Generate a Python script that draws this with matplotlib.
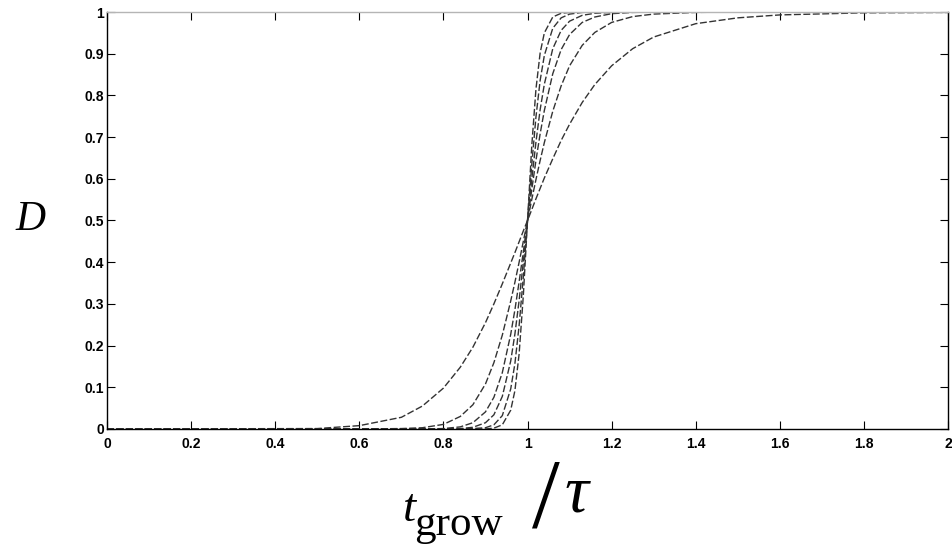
import numpy as np
import matplotlib
matplotlib.use("Agg")
import matplotlib.pyplot as plt

# 横軸 t_grow / tau
t = [0, 0.5, 0.6, 0.7, 0.75, 0.8, 0.84, 0.87, 0.9, 0.92, 0.94, 0.96, 0.97, 0.98, 0.99,
     1.0, 1.01, 1.02, 1.03, 1.04, 1.06, 1.08, 1.1, 1.13, 1.16, 1.2, 1.25, 1.3, 1.4, 1.5, 1.6, 1.8, 2.0]

# D の各曲線 (緩やかな順)
d1 = [0, 0.001, 0.008, 0.028, 0.055, 0.098, 0.148, 0.196, 0.255, 0.300, 0.348, 0.398, 0.423, 0.449, 0.475,
      0.5, 0.526, 0.552, 0.577, 0.602, 0.648, 0.692, 0.731, 0.783, 0.826, 0.871, 0.912, 0.940, 0.972, 0.986, 0.993, 0.998, 0.999]
d2 = [0, 0, 0, 0.001, 0.003, 0.011, 0.030, 0.058, 0.108, 0.159, 0.225, 0.307, 0.352, 0.400, 0.450,
      0.5, 0.550, 0.598, 0.644, 0.687, 0.762, 0.823, 0.871, 0.920, 0.951, 0.975, 0.989, 0.995, 0.999, 1, 1, 1, 1]
d3 = [0, 0, 0, 0, 0, 0.001, 0.005, 0.015, 0.041, 0.076, 0.135, 0.227, 0.286, 0.353, 0.425,
      0.5, 0.574, 0.644, 0.708, 0.764, 0.852, 0.910, 0.946, 0.975, 0.988, 0.996, 0.999, 1, 1, 1, 1, 1, 1]
d4 = [0, 0, 0, 0, 0, 0, 0.001, 0.004, 0.015, 0.034, 0.078, 0.163, 0.228, 0.308, 0.401,
      0.5, 0.598, 0.688, 0.766, 0.827, 0.912, 0.956, 0.978, 0.992, 0.997, 0.999, 1, 1, 1, 1, 1, 1, 1]
d5 = [0, 0, 0, 0, 0, 0, 0, 0.001, 0.003, 0.010, 0.032, 0.096, 0.157, 0.248, 0.365,
      0.5, 0.633, 0.748, 0.836, 0.896, 0.961, 0.986, 0.995, 0.999, 1, 1, 1, 1, 1, 1, 1, 1, 1]
d6 = [0, 0, 0, 0, 0, 0, 0, 0, 0, 0.002, 0.010, 0.045, 0.092, 0.180, 0.320,
      0.5, 0.678, 0.815, 0.902, 0.950, 0.988, 0.997, 0.999, 1, 1, 1, 1, 1, 1, 1, 1, 1, 1]
curves = [d1, d2, d3, d4, d5, d6]

xticks = [0, 0.2, 0.4, 0.6, 0.8, 1, 1.2, 1.4, 1.6, 1.8, 2]
xticklabels = ["0", "0.2", "0.4", "0.6", "0.8", "1", "1.2", "1.4", "1.6", "1.8", "2"]
yticks = [0, 0.1, 0.2, 0.3, 0.4, 0.5, 0.6, 0.7, 0.8, 0.9, 1]
yticklabels = ["0", "0.1", "0.2", "0.3", "0.4", "0.5", "0.6", "0.7", "0.8", "0.9", "1"]

fig = plt.figure(figsize=(9.53, 5.48), dpi=100)
ax = fig.add_axes([0.1123, 0.2172, 0.8825, 0.7609])

for d in curves:
    ax.plot(t, d, color="#333333", lw=1.0, linestyle=(0, (5, 1.8)))

ax.set_xlim(0, 2)
ax.set_ylim(0, 1)
ax.set_xticks(xticks)
ax.set_xticklabels(xticklabels)
ax.set_yticks(yticks)
ax.set_yticklabels(yticklabels)

ax.tick_params(direction="in", top=True, right=True, length=6, width=0.8, labelsize=10)
ax.tick_params(axis="x", pad=6)
ax.tick_params(axis="y", pad=2)
for lab in ax.get_xticklabels() + ax.get_yticklabels():
    lab.set_family("Liberation Sans")
    lab.set_weight("bold")

for s in ["left", "bottom", "right"]:
    ax.spines[s].set_color("black")
    ax.spines[s].set_linewidth(1.0)
ax.spines["top"].set_color("#b5b5b5")
ax.spines["top"].set_linewidth(1.0)

# 軸ラベル
fig.text(30 / 953, 1 - 220 / 548, "D", family="Liberation Serif", style="italic",
         fontsize=30, ha="center", va="center")

fig.text(403 / 953, 1 - 521 / 548, "t", family="Liberation Serif", style="italic",
         fontsize=34, ha="left", va="baseline")
fig.text(414 / 953, 1 - 535 / 548, "grow", family="Liberation Serif",
         fontsize=31, ha="left", va="baseline")
fig.text(546 / 953, 1 / 548, "/", family="Liberation Serif",
         fontsize=72, ha="center", va="bottom")
fig.text(565 / 953, 1 - 511 / 548, "τ", family="Liberation Serif", style="italic",
         fontsize=48, ha="left", va="baseline")

fig.savefig("out.png", dpi=100)
